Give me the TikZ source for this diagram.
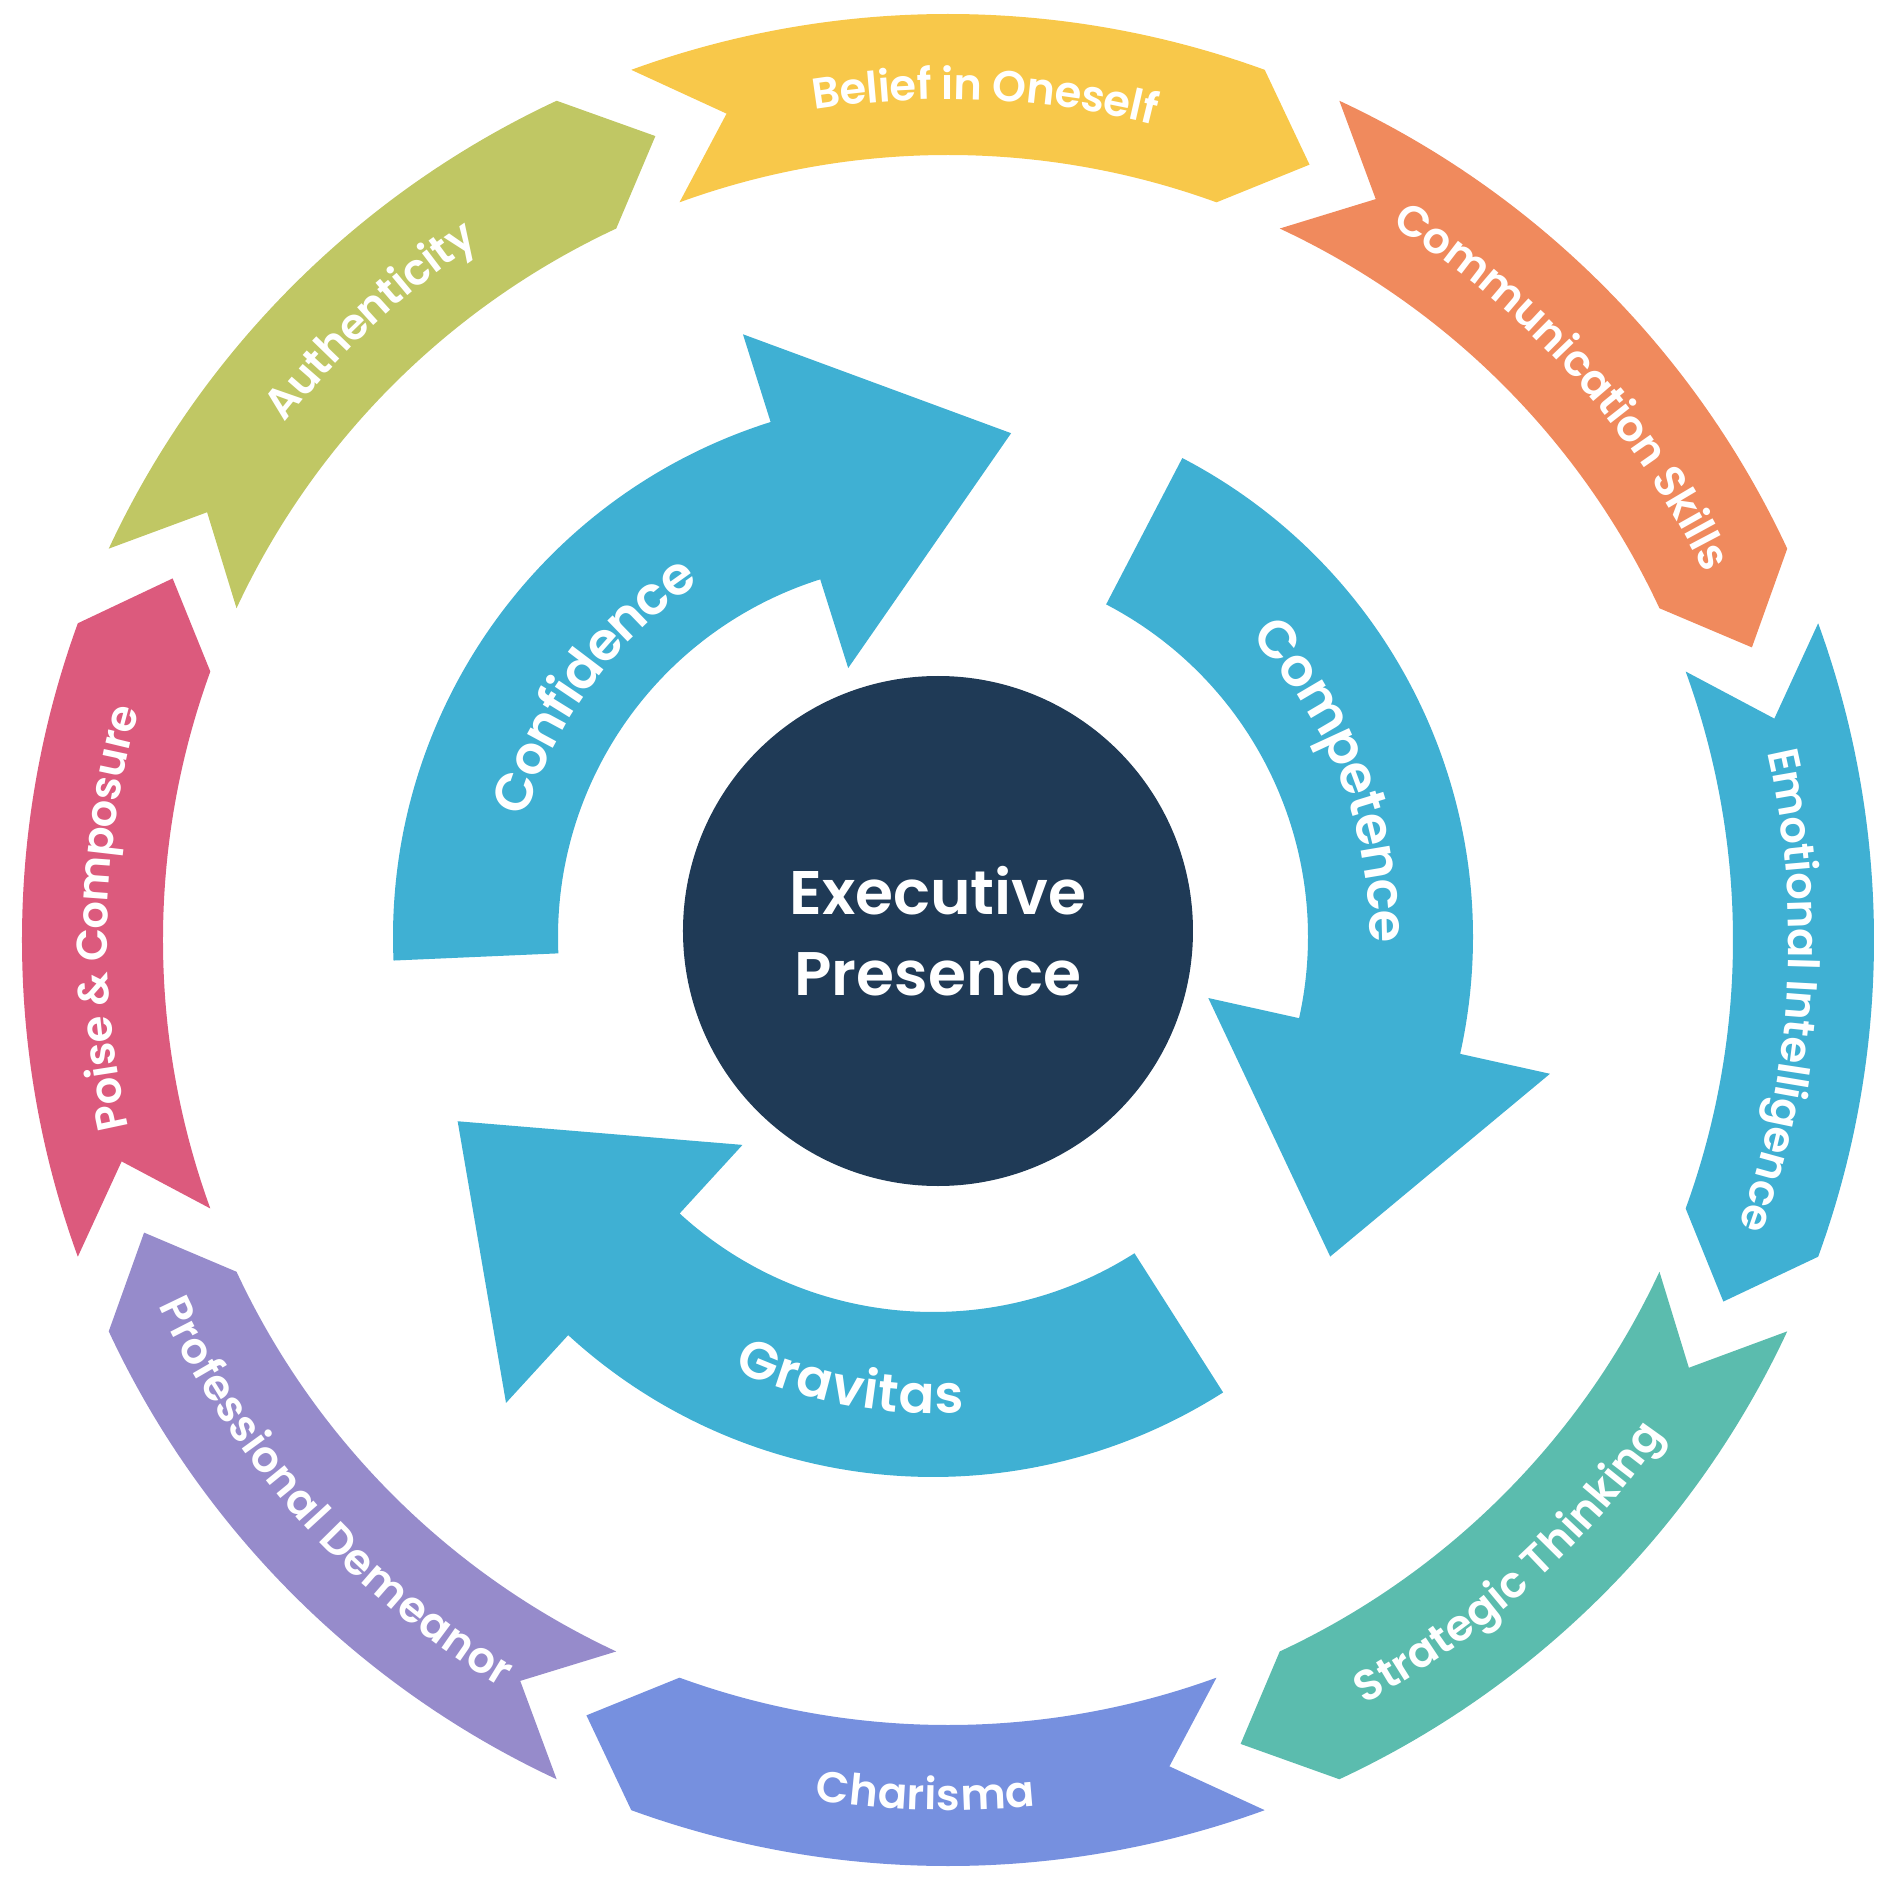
\documentclass[tikz,border=0pt]{standalone}
\usepackage{fontspec}
\setmainfont{Poppins}[BoldFont={Poppins SemiBold}]
\usetikzlibrary{calc, decorations.text}
\definecolor{beliefyellow}{HTML}{F8C84A}
\definecolor{commorange}{HTML}{F08A5D}
\definecolor{skyblue}{HTML}{3FB0D3}
\definecolor{stratteal}{HTML}{5BBCAE}
\definecolor{charismablue}{HTML}{7690DF}
\definecolor{demeanorlilac}{HTML}{968BCB}
\definecolor{poisepink}{HTML}{DC5A7D}
\definecolor{authgreen}{HTML}{C0C764}
\definecolor{corenavy}{HTML}{1F3A56}
\tikzset{
    core node/.style={circle, fill=corenavy, minimum size=5.10cm, inner sep=0pt, align=center, text=white, font=\fontsize{17.5}{23.2}\selectfont\bfseries},
    ring label/.style={decorate, decoration={text along path, text align=center, text color=white, raise=-4.2pt}},
    arrow label/.style={decorate, decoration={text along path, text align=center, text color=white, raise=-5.2pt}},
}
\newcommand{\ringout}{9.26}
\newcommand{\ringin}{7.85}
\newcommand{\ringmid}{8.555}
\newcommand{\ringfont}{\fontsize{12.3}{15}\selectfont\bfseries}
\newcommand{\arrowfont}{\fontsize{15}{18}\selectfont\bfseries}
% ring segment: #1 tail angle, #2 colour
\newcommand{\ringseg}[2]{
    \fill[#2] (#1:\ringout) arc[start angle=#1, end angle=#1-40, radius=\ringout]
        -- (#1-45:\ringmid) -- (#1-40:\ringin)
        arc[start angle=#1-40, end angle=#1, radius=\ringin]
        -- (#1-5:\ringmid) -- cycle;
}
% labels on the ring, read clockwise (#1 centre angle)
\newcommand{\toplabel}[2]{
    \path[ring label, decoration={text={|\ringfont|#2}}]
        (#1+22:\ringmid) arc[start angle=#1+22, end angle=#1-22, radius=\ringmid];
}
\newcommand{\bottomlabel}[2]{
    \path[ring label, decoration={text={|\ringfont|#2}}]
        (#1-22:\ringmid) arc[start angle=#1-22, end angle=#1+22, radius=\ringmid];
}
% inner arrow: #1 tail angle
\newcommand{\bluearrow}[1]{
    \fill[skyblue] (#1:3.75) arc[start angle=#1, end angle=#1-75, radius=3.75]
        -- (#1-75:2.82) -- ($(#1-75:4.57)+(#1-165:2.26)$) -- (#1-75:6.32) -- (#1-75:5.40)
        arc[start angle=#1-75, end angle=#1, radius=5.40] -- cycle;
}

\begin{document}
\begin{tikzpicture}
    \useasboundingbox (-9.48,-9.50) rectangle (9.42,9.40);
    \ringseg{110}{beliefyellow}
    \ringseg{65}{commorange}
    \ringseg{20}{skyblue}
    \ringseg{-25}{stratteal}
    \ringseg{-70}{charismablue}
    \ringseg{-115}{demeanorlilac}
    \ringseg{-160}{poisepink}
    \ringseg{155}{authgreen}
    \toplabel{87.5}{Belief in Oneself}
    \toplabel{42}{Communication Skills}
    \toplabel{-3.5}{Emotional Intelligence}
    \bottomlabel{-48}{Strategic Thinking}
    \bottomlabel{-91.5}{Charisma}
    \bottomlabel{-138}{Professional Demeanor}
    \toplabel{178.5}{Poise {\&} Composure}
    \toplabel{133}{Authenticity}
    \begin{scope}[shift={(-0.15,0.03)}]
        \bluearrow{182.5}
        \bluearrow{62.5}
        \bluearrow{-57.5}
        \path[arrow label, decoration={text={|\arrowfont|Confidence}}]
            (173.5:4.42) arc[start angle=173.5, end angle=113.5, radius=4.42];
        \path[arrow label, decoration={text={|\arrowfont|Competence}}]
            (51.3:4.55) arc[start angle=51.3, end angle=-8.7, radius=4.55];
        \path[arrow label, decoration={text={|\arrowfont|Gravitas}}]
            (-130.5:4.58) arc[start angle=-130.5, end angle=-70.5, radius=4.58];
    \end{scope}
    \node[core node] (core) at (-0.10,0.09) {Executive\\Presence};
\end{tikzpicture}
\end{document}
